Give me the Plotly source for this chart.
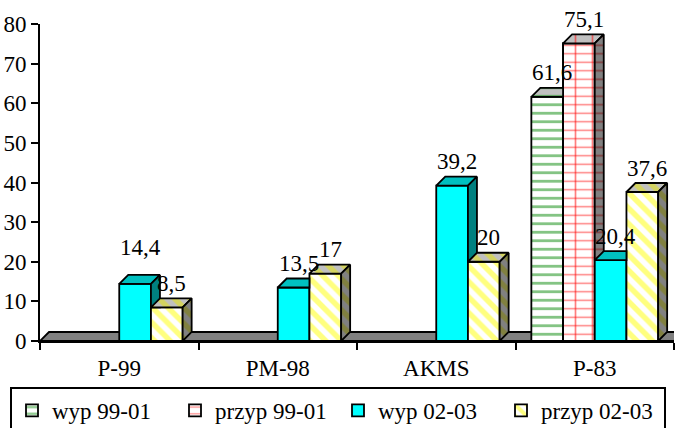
import plotly.graph_objects as go

# ---- data -------------------------------------------------------------
categories = ["P-99", "PM-98", "AKMS", "P-83"]
series_names = ["wyp 99-01", "przyp 99-01", "wyp 02-03", "przyp 02-03"]
wyp_99_01 = [None, None, None, 61.6]
przyp_99_01 = [None, None, None, 75.1]
wyp_02_03 = [14.4, 13.5, 39.2, 20.4]
przyp_02_03 = [8.5, 17, 20, 37.6]
y_ticks = [0, 10, 20, 30, 40, 50, 60, 70, 80]

series_values = [wyp_99_01, przyp_99_01, wyp_02_03, przyp_02_03]

# ---- geometry -----------------------------------------------------------
W, H = 676, 428
M_L, M_R, M_T, M_B = 40, 2, 24, 87
PLOT_W = W - M_L - M_R
PLOT_H = H - M_T - M_B
X_RANGE = [-0.5, len(categories) - 0.5]
Y_RANGE = [0, 80]
GROUP_W = 0.8
BAR_W = GROUP_W / len(series_names)
DEPTH_PX = 9
DX = DEPTH_PX * (X_RANGE[1] - X_RANGE[0]) / PLOT_W
DY = DEPTH_PX * (Y_RANGE[1] - Y_RANGE[0]) / PLOT_H

FONT = "'Liberation Serif', 'Times New Roman', 'DejaVu Serif', serif"
FONT_SIZE = 23
EDGE = 1.8

# legend box position in pixels
LEG_LEFT, LEG_TOP = 10, 387

# front / top / side styles per series
GREEN = "#0a8a0a"
styles = [
    dict(front=dict(bg="white", shape="-", fg=GREEN, size=8.5, solidity=0.33),
         top=dict(bg="#c0c0c0", shape="-", fg=GREEN, size=8.5, solidity=0.33),
         side=dict(bg="#808080", shape="-", fg="#0c5a0c", size=8.5, solidity=0.33)),
    dict(front=dict(bg="white", shape="-", fg="#ff0000", size=8.5, solidity=0.17),
         top=dict(bg="#c0c0c0", shape="|", fg="#ff0000", size=17, solidity=0.1),
         side=dict(bg="#808080", shape="-", fg="#800000", size=8.5, solidity=0.2)),
    dict(front=dict(bg="#00ffff", shape="", fg=None, size=8, solidity=0.3),
         top=dict(bg="#00c0c0", shape="", fg=None, size=8, solidity=0.3),
         side=dict(bg="#008080", shape="", fg=None, size=8, solidity=0.3)),
    dict(front=dict(bg="white", shape="\\", fg="#ffff00", size=11, solidity=0.5),
         top=dict(bg="#c0c0c0", shape="\\", fg="#e6e600", size=11, solidity=0.5),
         side=dict(bg="#808080", shape="\\", fg="#808000", size=11, solidity=0.5)),
]


def bar_offset(k):
    return -GROUP_W / 2 + k * BAR_W


def fmt(v):
    return f"{v:g}".replace(".", ",")


# ---- polygon helpers (for the visible parts of the 3-D faces) ---------
def clip_half(poly, a, b, c):
    """Keep the part of poly where a*x + b*y <= c."""
    out = []
    n = len(poly)
    for i in range(n):
        p, q = poly[i], poly[(i + 1) % n]
        fp = a * p[0] + b * p[1] - c
        fq = a * q[0] + b * q[1] - c
        if fp <= 0:
            out.append(p)
        if (fp < 0 < fq) or (fq < 0 < fp):
            t = fp / (fp - fq)
            out.append((p[0] + t * (q[0] - p[0]), p[1] + t * (q[1] - p[1])))
    return out


def area(poly):
    s = 0.0
    for i in range(len(poly)):
        x1, y1 = poly[i]
        x2, y2 = poly[(i + 1) % len(poly)]
        s += x1 * y2 - x2 * y1
    return s / 2


def subtract_rect(poly, xa, xb, yt):
    xs = [p[0] for p in poly]
    ys = [p[1] for p in poly]
    if max(xs) <= xa or min(xs) >= xb or min(ys) >= yt:
        return [poly]
    left = clip_half(poly, 1, 0, xa)
    right = clip_half(poly, -1, 0, -xb)
    mid = clip_half(clip_half(clip_half(poly, -1, 0, -xa), 1, 0, xb), 0, -1, -yt)
    return [p for p in (left, right, mid) if len(p) >= 3 and abs(area(p)) > 1e-9]


def face_trace(poly, st):
    xs = [p[0] for p in poly] + [poly[0][0]]
    ys = [p[1] for p in poly] + [poly[0][1]]
    kw = dict(fillcolor=st["bg"])
    if st["shape"]:
        kw["fillpattern"] = dict(shape=st["shape"], fgcolor=st["fg"], bgcolor=st["bg"],
                                 size=st["size"], solidity=st["solidity"])
    return go.Scatter(x=xs, y=ys, mode="lines", fill="toself",
                      line=dict(color="black", width=EDGE),
                      showlegend=False, hoverinfo="skip", **kw)


fig = go.Figure()

# ---- front faces: the bars ---------------------------------------------
xpos = list(range(len(categories)))
for k, (name, vals) in enumerate(zip(series_names, series_values)):
    f = styles[k]["front"]
    pattern = dict(shape=f["shape"], fgcolor=f["fg"], bgcolor=f["bg"],
                   size=f["size"], solidity=f["solidity"]) if f["shape"] else None
    fig.add_trace(go.Bar(
        x=xpos, y=vals, name=name, width=BAR_W, offset=bar_offset(k),
        marker=dict(color=f["bg"], pattern=pattern,
                    line=dict(color="black", width=EDGE)),
        hoverinfo="skip",
    ))
    if k == 1:
        # vertical red lines completing the grid on the front face
        fig.add_trace(go.Bar(
            x=xpos, y=vals, width=BAR_W, offset=bar_offset(k), showlegend=False,
            marker=dict(color="rgba(0,0,0,0)",
                        pattern=dict(shape="|", fgcolor="#ff0000",
                                     bgcolor="rgba(0,0,0,0)", size=17, solidity=0.1),
                        line=dict(color="black", width=EDGE)),
            hoverinfo="skip",
        ))

# ---- top and side faces (painter's order, left to right) --------------
for c in range(len(categories)):
    for k in range(len(series_names)):
        v = series_values[k][c]
        if v is None:
            continue
        x0 = c + bar_offset(k)
        x1 = x0 + BAR_W
        top = [(x0, v), (x0 + DX, v + DY), (x1 + DX, v + DY), (x1, v)]
        side = [(x1, 0), (x1, v), (x1 + DX, v + DY), (x1 + DX, DY)]
        nxt = series_values[k + 1][c] if k + 1 < len(series_names) else None
        if nxt is not None:
            tops = subtract_rect(top, x1, x1 + BAR_W, nxt)
            sides = subtract_rect(side, x1, x1 + BAR_W, nxt)
        else:
            tops, sides = [top], [side]
        for p in tops:
            fig.add_trace(face_trace(p, styles[k]["top"]))
        for p in sides:
            fig.add_trace(face_trace(p, styles[k]["side"]))

# ---- value labels ------------------------------------------------------
for k, vals in enumerate(series_values):
    for c, v in enumerate(vals):
        if v is None:
            continue
        lift = 36 if (c, k) == (0, 2) else 24
        fig.add_annotation(
            x=c + bar_offset(k) + BAR_W / 2, y=v, text=fmt(v), showarrow=False,
            xshift=5, yshift=lift, yanchor="middle", xanchor="center",
            font=dict(family=FONT, size=FONT_SIZE, color="black"),
        )

# ---- floor under the bars ----------------------------------------------
xa, xb = X_RANGE
fig.add_shape(
    type="path", layer="below", xref="x", yref="y",
    path=f"M {xa},0 L {xa + DX},{DY} L {xb + DX},{DY} L {xb},0 Z",
    fillcolor="#808080", line=dict(color="black", width=EDGE),
)

fig.update_layout(
    width=W, height=H,
    margin=dict(l=M_L, r=M_R, t=M_T, b=M_B, autoexpand=False),
    paper_bgcolor="white", plot_bgcolor="white",
    barmode="overlay",
    font=dict(family=FONT, size=FONT_SIZE, color="black"),
    showlegend=True,
    legend=dict(
        orientation="h", xref="paper", yref="paper",
        x=(LEG_LEFT - M_L) / PLOT_W, y=(H - M_B - LEG_TOP) / PLOT_H,
        xanchor="left", yanchor="top",
        bordercolor="black", borderwidth=2, bgcolor="white",
        font=dict(family=FONT, size=FONT_SIZE, color="black"),
        entrywidth=118, entrywidthmode="pixels", itemwidth=30,
    ),
    xaxis=dict(
        range=X_RANGE, tickmode="array", tickvals=xpos, ticktext=categories,
        ticks="", showline=True, linecolor="black", linewidth=2,
        showgrid=False, zeroline=False, ticklabelstandoff=5,
        minor=dict(tickmode="array",
                   tickvals=[i - 0.5 for i in range(len(categories) + 1)],
                   ticks="outside", ticklen=7, tickwidth=2, tickcolor="black"),
    ),
    yaxis=dict(
        range=Y_RANGE, tickmode="array", tickvals=y_ticks,
        ticks="outside", ticklen=7, tickwidth=2, tickcolor="black",
        showline=True, linecolor="black", linewidth=2,
        showgrid=False, zeroline=False,
    ),
)

fig.write_html("out.html")
